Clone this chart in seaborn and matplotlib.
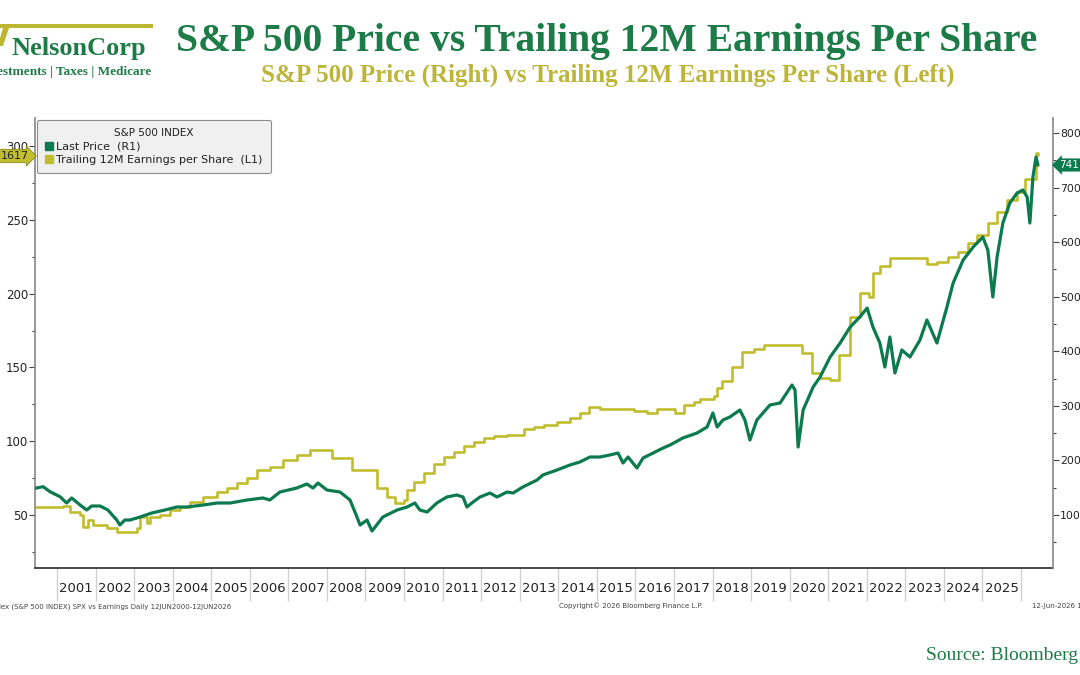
import matplotlib
matplotlib.use('Agg')
import matplotlib.pyplot as plt
import matplotlib.patches as mpatches
from matplotlib.lines import Line2D
from matplotlib.ticker import MultipleLocator
import seaborn as sns

# S&P 500 last price (right axis); x in decimal years
price_year = [2000.43, 2000.64, 2000.82, 2001.08, 2001.25, 2001.38, 2001.60, 2001.77, 2001.90,
              2002.12, 2002.32, 2002.55, 2002.63, 2002.76, 2002.89, 2003.07, 2003.23, 2003.46,
              2003.80, 2004.11, 2004.37, 2004.79, 2005.15, 2005.49, 2005.93, 2006.34, 2006.52,
              2006.78, 2007.22, 2007.48, 2007.64, 2007.77, 2008.00, 2008.34, 2008.60, 2008.78,
              2008.86, 2009.04, 2009.17, 2009.45, 2009.82, 2010.08, 2010.28, 2010.41, 2010.60,
              2010.85, 2011.11, 2011.37, 2011.53, 2011.63, 2011.79, 2011.97, 2012.23, 2012.41,
              2012.67, 2012.83, 2013.08, 2013.45, 2013.60, 2013.97, 2014.30, 2014.56, 2014.82,
              2015.08, 2015.34, 2015.55, 2015.68, 2015.81, 2016.04, 2016.20, 2016.46, 2016.72,
              2016.90, 2017.23, 2017.60, 2017.86, 2018.01, 2018.12, 2018.27, 2018.45, 2018.71,
              2018.84, 2018.97, 2019.15, 2019.49, 2019.75, 2020.06, 2020.14, 2020.22, 2020.35,
              2020.61, 2020.79, 2021.05, 2021.31, 2021.57, 2021.82, 2022.01, 2022.16, 2022.34,
              2022.47, 2022.60, 2022.73, 2022.91, 2023.12, 2023.38, 2023.56, 2023.82, 2024.08,
              2024.24, 2024.50, 2024.76, 2025.01, 2025.14, 2025.27, 2025.38, 2025.53, 2025.71,
              2025.90, 2026.05, 2026.16, 2026.23, 2026.31, 2026.39, 2026.44]
price_value = [148.9, 151.9, 142.7, 133.5, 122.0, 131.2, 118.3, 109.2, 116.5,
               116.5, 109.2, 90.8, 81.7, 90.8, 90.8, 94.5, 98.2, 103.7,
               109.2, 114.7, 114.7, 118.3, 122.0, 122.0, 127.5, 131.2, 127.5,
               142.1, 149.5, 156.8, 149.5, 158.6, 145.8, 142.1, 127.5, 96.3,
               81.7, 90.8, 70.7, 96.3, 109.2, 114.7, 122.0, 109.2, 105.5,
               122.0, 133.0, 136.7, 133.0, 114.7, 123.8, 133.0, 140.3, 133.0,
               142.1, 140.3, 151.3, 164.1, 173.3, 182.5, 191.6, 197.1, 206.3,
               206.3, 210.0, 213.6, 195.3, 206.3, 186.1, 204.5, 213.6, 222.8,
               228.3, 241.1, 250.3, 261.3, 286.9, 261.3, 274.1, 279.6, 292.4,
               274.1, 237.4, 274.1, 301.6, 305.2, 338.2, 329.1, 224.6, 292.4,
               334.6, 352.9, 389.5, 415.2, 444.5, 462.8, 479.3, 444.5, 415.2,
               371.2, 426.2, 360.2, 402.4, 389.5, 420.7, 457.3, 415.2, 481.2,
               525.1, 567.3, 591.1, 609.4, 585.6, 499.5, 572.8, 635.1, 671.7,
               690.1, 695.6, 682.7, 635.1, 719.4, 756.0, 741.0]

# Trailing 12M EPS (left axis): date of each step and the new level
eps_year = [2000.43, 2001.16, 2001.34, 2001.60, 2001.67, 2001.80, 2001.93, 2002.30, 2002.56,
            2003.07, 2003.15, 2003.33, 2003.41, 2003.67, 2003.93, 2004.19, 2004.45, 2004.79,
            2005.15, 2005.41, 2005.67, 2005.93, 2006.19, 2006.52, 2006.86, 2007.22, 2007.56,
            2008.13, 2008.65, 2009.30, 2009.56, 2009.77, 2010.01, 2010.08, 2010.26, 2010.52,
            2010.78, 2011.04, 2011.30, 2011.56, 2011.82, 2012.08, 2012.34, 2012.67, 2013.11,
            2013.37, 2013.63, 2013.97, 2014.30, 2014.56, 2014.80, 2015.08, 2015.96, 2016.30,
            2016.56, 2017.02, 2017.26, 2017.52, 2017.67, 2018.03, 2018.11, 2018.24, 2018.50,
            2018.76, 2019.07, 2019.33, 2020.31, 2020.57, 2020.78, 2021.04, 2021.27, 2021.57,
            2021.82, 2022.05, 2022.16, 2022.34, 2022.60, 2023.56, 2023.82, 2024.11, 2024.37,
            2024.63, 2024.86, 2025.14, 2025.38, 2025.64, 2025.90, 2026.10, 2026.39, 2026.45]
eps_value = [55.4, 56.1, 52.0, 50.0, 41.9, 46.6, 43.2, 41.2, 38.5,
             41.2, 48.6, 44.6, 48.6, 50.0, 53.4, 55.4, 58.8, 62.2,
             65.6, 68.3, 71.7, 75.1, 80.5, 82.5, 87.3, 90.7, 94.0,
             88.6, 80.5, 68.3, 62.2, 58.1, 60.2, 66.9, 72.4, 78.5,
             84.6, 89.3, 92.7, 96.7, 99.5, 102.2, 103.5, 104.2, 108.3,
             109.6, 111.0, 113.0, 115.7, 119.1, 123.2, 121.8, 120.5, 119.1,
             121.8, 119.1, 124.5, 126.6, 128.6, 130.6, 136.0, 140.8, 150.3,
             160.4, 162.5, 165.2, 159.8, 146.2, 142.8, 141.5, 158.4, 184.1,
             200.4, 198.0, 214.0, 218.7, 224.1, 220.1, 221.4, 224.8, 228.2,
             234.3, 239.7, 247.8, 255.3, 263.4, 268.8, 277.7, 295.3, 294.0]

year_edges = list(range(2001, 2027))
year_labels = [str(y) for y in range(2001, 2026)]
left_ticks = [50, 100, 150, 200, 250, 300]
right_ticks = [100, 200, 300, 400, 500, 600, 700, 800]

GREEN = '#0b7a4f'
OLIVE = '#c0bd2e'
TITLE_GREEN = '#1d7b48'
SUB_OLIVE = '#bcb53a'

sns.set_theme(style='ticks')
plt.rcParams['font.family'] = ['DejaVu Sans']

W, H = 1080, 675
fig = plt.figure(figsize=(10.8, 6.75), dpi=100)


def fx(px):
    return px / W


def fy(py):
    return 1 - py / H


ax = fig.add_axes([fx(35), fy(568), fx(1053) - fx(35), fy(118) - fy(568)])
ax2 = ax.twinx()

sns.lineplot(x=eps_year, y=eps_value, ax=ax, color=OLIVE, linewidth=1.9,
             drawstyle='steps-post', estimator=None, sort=False, legend=False)
sns.lineplot(x=price_year, y=price_value, ax=ax2, color=GREEN, linewidth=2.3,
             estimator=None, sort=False, legend=False)

ax.set_xlim(2000.43, 2026.83)
ax.set_ylim(14.1, 319)
ax2.set_ylim(2.9, 827.5)
for a in (ax, ax2):
    a.set_xlabel('')
    a.set_ylabel('')

# x axis: separators at year boundaries, labels centred between them
ax.set_xticks(year_edges)
ax.set_xticklabels([])
ax.set_xticks([y + 0.5 for y in range(2001, 2026)], minor=True)
ax.set_xticklabels(year_labels, minor=True)
ax.tick_params(axis='x', which='major', direction='out', length=24, width=1, color='#d0d0d0', bottom=True)
ax.tick_params(axis='x', which='minor', length=0, pad=10, labelsize=9.5, labelcolor='#222222', bottom=True)

ax.set_yticks(left_ticks)
ax.yaxis.set_minor_locator(MultipleLocator(25))
ax.tick_params(axis='y', which='both', direction='out', left=True, color='#444444', width=0.8)
ax.tick_params(axis='y', which='major', length=4, labelsize=8.5, labelcolor='#222222', pad=1)
ax.tick_params(axis='y', which='minor', length=2)

ax2.set_yticks(right_ticks)
ax2.yaxis.set_minor_locator(MultipleLocator(50))
ax2.tick_params(axis='y', which='both', direction='out', right=True, color='#444444', width=0.8)
ax2.tick_params(axis='y', which='major', length=4, labelsize=7.8, labelcolor='#222222', pad=1)
ax2.tick_params(axis='y', which='minor', length=2)

ax.spines['top'].set_visible(False)
ax.spines['right'].set_visible(False)
ax.spines['left'].set_color('#8c8c8c')
ax.spines['bottom'].set_color('#333333')
ax2.spines['top'].set_visible(False)
ax2.spines['left'].set_visible(False)
ax2.spines['bottom'].set_visible(False)
ax2.spines['right'].set_color('#8c8c8c')

handles = [Line2D([], [], marker='s', linestyle='', markerfacecolor=GREEN, markeredgecolor=GREEN, markersize=6),
           Line2D([], [], marker='s', linestyle='', markerfacecolor=OLIVE, markeredgecolor=OLIVE, markersize=6)]
leg = ax2.legend(handles, ['Last Price  (R1)', 'Trailing 12M Earnings per Share  (L1)'],
                 title='S&P 500 INDEX', loc='upper left',
                 bbox_to_anchor=(fx(37), fy(120)), bbox_transform=fig.transFigure,
                 fontsize=8, title_fontsize=7.5, frameon=True, fancybox=True, framealpha=1,
                 facecolor='#f0f0f0', edgecolor='#8c8c8c', handlelength=0.7, handletextpad=0.3,
                 labelspacing=0.3, borderpad=0.75, borderaxespad=0)
leg.get_frame().set_linewidth(0.8)
for t in leg.get_texts():
    t.set_color('#222222')
leg.get_title().set_color('#222222')

# last-value tags
fig.text(fx(1), fy(156), '1617', ha='left', va='center', fontsize=8, color='#222222',
         bbox=dict(boxstyle='rarrow,pad=0.15', fc=OLIVE, ec='#8a8620', lw=0.6), zorder=5)
fig.text(fx(1059), fy(165), '741', ha='left', va='center', fontsize=7.5, color='white',
         bbox=dict(boxstyle='larrow,pad=0.15', fc=GREEN, ec='none'), zorder=5)

# header
fig.text(fx(607), fy(51), 'S&P 500 Price vs Trailing 12M Earnings Per Share', ha='center', va='baseline',
         fontsize=28.5, fontweight='bold', family='Liberation Serif', color=TITLE_GREEN)
fig.text(fx(608), fy(82), 'S&P 500 Price (Right) vs Trailing 12M Earnings Per Share (Left)', ha='center',
         va='baseline', fontsize=18, fontweight='bold', family='Liberation Serif', color=SUB_OLIVE)

# logo
fig.add_artist(mpatches.Rectangle((0, fy(28)), fx(153), fy(24) - fy(28), transform=fig.transFigure,
                                  color='#bdb630', lw=0))
fig.add_artist(mpatches.Polygon([(fx(3), fy(28)), (fx(9), fy(28)), (fx(3), fy(46)), (0, fy(46)), (0, fy(38))],
                                closed=True, transform=fig.transFigure, color='#bdb630', lw=0))
fig.text(fx(12), fy(55), 'NelsonCorp', ha='left', va='baseline', fontsize=19, fontweight='bold',
         family='Liberation Serif', color=TITLE_GREEN)
fig.text(fx(151), fy(75), 'Investments | Taxes | Medicare', ha='right', va='baseline', fontsize=9.5,
         fontweight='bold', family='Liberation Serif', color=TITLE_GREEN)

# footer
fig.text(fx(231), fy(608), 'Index (S&P 500 INDEX) SPX vs Earnings Daily 12JUN2000-12JUN2026', ha='right',
         va='baseline', fontsize=5, color='#444444')
fig.text(fx(631), fy(608), 'Copyright\u00a9 2026 Bloomberg Finance L.P.', ha='center', va='baseline',
         fontsize=5, color='#444444')
fig.text(fx(1032), fy(608), '12-Jun-2026 16:00:00', ha='left', va='baseline', fontsize=5, color='#444444')
fig.text(fx(1078), fy(660), 'Source: Bloomberg', ha='right', va='baseline', fontsize=14,
         family='Liberation Serif', color=TITLE_GREEN)

fig.savefig('out.png', dpi=100)
